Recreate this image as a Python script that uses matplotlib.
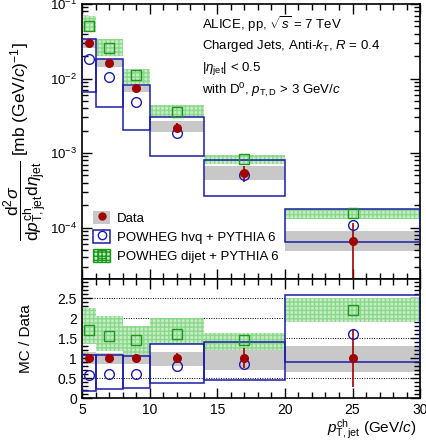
import numpy as np
import matplotlib
matplotlib.use('Agg')
import matplotlib.pyplot as plt
from matplotlib.patches import Patch
from matplotlib.lines import Line2D
from matplotlib.ticker import MultipleLocator, LogLocator, NullFormatter

plt.rcParams['font.family'] = ['Liberation Sans', 'DejaVu Sans']
plt.rcParams['mathtext.fontset'] = 'custom'
plt.rcParams['mathtext.rm'] = 'Liberation Sans'
plt.rcParams['mathtext.it'] = 'Liberation Sans:italic'
plt.rcParams['mathtext.bf'] = 'Liberation Sans:bold'
plt.rcParams['hatch.linewidth'] = 1.0

# bins in pT (GeV/c)
bin_lo = np.array([5, 6, 8, 10, 14, 20])
bin_hi = np.array([6, 8, 10, 14, 20, 30])
bin_c = np.array([5.5, 7, 9, 12, 17, 25])

# measured cross section
data_y = np.array([0.030, 0.0163, 0.0075, 0.0022, 5.4e-4, 6.7e-5])
data_stat = np.array([0.002, 0.001, 0.0006, 0.0003, 1.3e-4, 4.8e-5])
data_sys_lo = np.array([0.0255, 0.0141, 0.0065, 0.0019, 4.35e-4, 4.9e-5])
data_sys_hi = np.array([0.0345, 0.0181, 0.0080, 0.00272, 6.7e-4, 9.1e-5])

# POWHEG hvq + PYTHIA 6
hvq_y = np.array([0.018, 0.0105, 0.0048, 0.00185, 5.07e-4, 1.1e-4])
hvq_lo = np.array([0.00653, 0.0041, 0.00207, 0.0009, 2.69e-4, 6.46e-5])
hvq_hi = np.array([0.0336, 0.0182, 0.0081, 0.00306, 8.1e-4, 1.78e-4])

# POWHEG dijet + PYTHIA 6
dij_y = np.array([0.0514, 0.0257, 0.0112, 0.00358, 8.4e-4, 1.55e-4])
dij_lo = np.array([0.0417, 0.0199, 0.0084, 0.0030, 7.1e-4, 1.31e-4])
dij_hi = np.array([0.068, 0.0339, 0.0136, 0.00448, 9.35e-4, 1.78e-4])

# ratio panel (MC / Data)
r_data_stat = np.array([0.07, 0.06, 0.08, 0.13, 0.24, 0.72])
r_sys_lo = np.array([0.85, 0.86, 0.86, 0.80, 0.71, 0.66])
r_sys_hi = np.array([1.15, 1.12, 1.12, 1.16, 1.30, 1.30])
r_hvq = np.array([0.58, 0.61, 0.61, 0.81, 0.85, 1.59])
r_hvq_lo = np.array([0.18, 0.22, 0.24, 0.37, 0.44, 0.89])
r_hvq_hi = np.array([1.08, 1.08, 1.06, 1.34, 1.41, 2.58])
r_dij = np.array([1.70, 1.55, 1.46, 1.59, 1.45, 2.20])
r_dij_lo = np.array([1.34, 1.17, 1.11, 1.34, 1.19, 1.89])
r_dij_hi = np.array([2.26, 2.04, 1.79, 1.99, 1.62, 2.49])

RED = '#a00000'
BLUE = '#1c1ca8'
GREEN = '#1a9a1a'
GREY = '#c8c8c8'
HATCH_GREEN = '#8ad88a'
FILL_GREEN = '#c8ecc8'

fig = plt.figure(figsize=(4.27, 4.42), dpi=100)
ax1 = fig.add_axes([0.192, 0.369, 0.792, 0.622])
ax2 = fig.add_axes([0.192, 0.0995, 0.792, 0.2695])

widths = bin_hi - bin_lo


def draw_panel(ax, y, stat, slo, shi, hy, hlo, hhi, dy, dlo, dhi):
    ax.bar(bin_lo, shi - slo, bottom=slo, width=widths, align='edge',
           color=GREY, linewidth=0, zorder=1)
    ax.bar(bin_lo, dhi - dlo, bottom=dlo, width=widths, align='edge',
           facecolor=FILL_GREEN, edgecolor=HATCH_GREEN, hatch='++++',
           linewidth=0, zorder=2)
    ax.bar(bin_lo, hhi - hlo, bottom=hlo, width=widths, align='edge',
           facecolor='none', edgecolor=BLUE, linewidth=1.1, zorder=3)
    ax.errorbar(bin_c, y, yerr=stat, fmt='none', ecolor=RED, elinewidth=1.2,
                capsize=0, zorder=4)
    ax.plot(bin_c, hy, 'o', mfc='none', mec=BLUE, ms=7, mew=1.0, zorder=5)
    ax.plot(bin_c, dy, 's', mfc='none', mec=GREEN, ms=7, mew=1.0, zorder=5)
    ax.plot(bin_c, y, 'o', color=RED, ms=5.5, zorder=6)


draw_panel(ax1, data_y, data_stat, data_sys_lo, data_sys_hi,
           hvq_y, hvq_lo, hvq_hi, dij_y, dij_lo, dij_hi)
ones = np.ones_like(r_hvq)
draw_panel(ax2, ones, r_data_stat, r_sys_lo, r_sys_hi,
           r_hvq, r_hvq_lo, r_hvq_hi, r_dij, r_dij_lo, r_dij_hi)

ax1.set_yscale('log')
ax1.set_ylim(2.05e-5, 0.1)
ax2.set_ylim(0, 2.98)
for ax in (ax1, ax2):
    ax.set_xlim(5, 30)
    ax.xaxis.set_major_locator(MultipleLocator(5))
    ax.xaxis.set_minor_locator(MultipleLocator(1))
    ax.tick_params(which='both', direction='in', top=True, right=True, width=1.0)
    ax.tick_params(which='major', length=7)
    ax.tick_params(which='minor', length=4)
    for s in ax.spines.values():
        s.set_linewidth(1.2)

ax1.yaxis.set_major_locator(LogLocator(base=10, numticks=10))
ax1.yaxis.set_minor_locator(LogLocator(base=10, subs=np.arange(2, 10), numticks=10))
ax1.yaxis.set_minor_formatter(NullFormatter())
ax1.tick_params(axis='x', labelbottom=False)
ax1.tick_params(axis='y', labelsize=9.5)

ax2.yaxis.set_major_locator(MultipleLocator(0.5))
ax2.yaxis.set_minor_locator(MultipleLocator(0.1))
ax2.set_yticks([0, 0.5, 1, 1.5, 2, 2.5])
ax2.set_yticklabels(['0', '0.5', '1', '1.5', '2', '2.5'])
ax2.tick_params(axis='both', labelsize=10)
for g in [0.5, 1, 1.5, 2, 2.5]:
    ax2.axhline(g, color='black', linestyle=(0, (1, 1.5)), linewidth=0.7, zorder=0)

ax1.set_ylabel(r'$\dfrac{\mathrm{d}^2\sigma}{\mathrm{d}p^{\mathrm{ch}}_{\mathrm{T,jet}}\mathrm{d}\eta_{\mathrm{jet}}}$'
               r' [mb (GeV/$c$)$^{-1}$]', fontsize=12.5)
ax1.yaxis.set_label_coords(-0.095, 0.5)
ax2.set_ylabel('MC / Data', fontsize=11)
ax2.yaxis.set_label_coords(-0.145, 0.5)
ax2.set_xlabel(r'$p^{\mathrm{ch}}_{\mathrm{T,jet}}$ (GeV/$c$)', fontsize=11, loc='right')
ax2.xaxis.set_label_coords(0.99, -0.16)

txt = [r'ALICE, pp, $\sqrt{s}$ = 7 TeV',
       r'Charged Jets, Anti-$k_{\mathrm{T}}$, $R$ = 0.4',
       r'|$\eta_{\mathrm{jet}}$| < 0.5',
       r'with D$^{0}$, $p_{\mathrm{T,D}}$ > 3 GeV/$c$']
for t, yy in zip(txt, [0.927, 0.847, 0.764, 0.687]):
    ax1.text(0.355, yy, t, transform=ax1.transAxes, fontsize=9.5, va='center', ha='left')

h_data = (Patch(facecolor=GREY, edgecolor='none'),
          Line2D([], [], marker='o', color=RED, ms=5, linestyle='none'))
h_hvq = (Patch(facecolor='none', edgecolor=BLUE, linewidth=1.1),
         Line2D([], [], marker='o', mfc='none', mec=BLUE, ms=6, linestyle='none'))
h_dij = (Patch(facecolor=FILL_GREEN, edgecolor=GREEN, hatch='++++', linewidth=1.0),
         Line2D([], [], marker='s', mfc='none', mec=GREEN, ms=6, linestyle='none'))
ax1.legend([h_data, h_hvq, h_dij],
           ['Data', 'POWHEG hvq + PYTHIA 6', 'POWHEG dijet + PYTHIA 6'],
           loc='lower left', bbox_to_anchor=(0.01, 0.03), frameon=False,
           fontsize=9.5, handlelength=1.3, handleheight=1.2, labelspacing=0.35,
           handletextpad=0.5, borderaxespad=0.2)

fig.savefig('out.png', dpi=100)
